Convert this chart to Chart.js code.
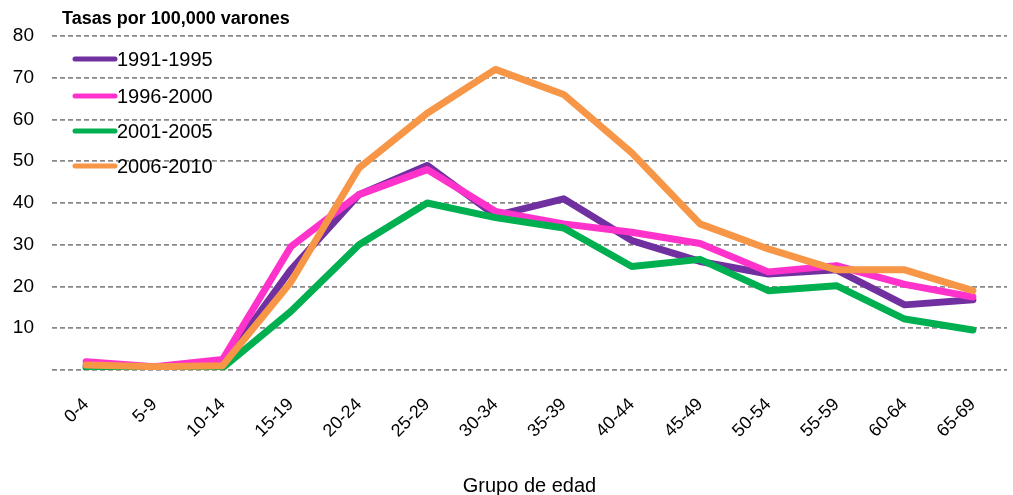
<!DOCTYPE html>
<html>
<head>
<meta charset="utf-8">
<script src="https://cdn.jsdelivr.net/npm/chart.js@4"></script>
<style>
  html, body { margin: 0; padding: 0; background: #fff; }
  #wrap { width: 1013px; height: 495px; }
</style>
</head>
<body>
<div id="wrap"><canvas id="myChart"></canvas></div>
<script>
// Grupos de edad
var grupos = ['0-4', '5-9', '10-14', '15-19', '20-24', '25-29', '30-34', '35-39', '40-44', '45-49', '50-54', '55-59', '60-64', '65-69'];

// Tasas por 100,000 varones
var p1991 = [1.0, 0.5, 1.5, 24, 42, 49, 37, 41, 31, 26, 23, 24, 15.6, 16.8];
var p1996 = [2.0, 0.8, 2.5, 29.5, 42, 48, 38, 35, 33, 30.3, 23.5, 25, 20.5, 17.5];
var p2001 = [0.5, 0.5, 0.5, 14, 30, 40, 36.5, 34, 24.8, 26.5, 19, 20.2, 12.2, 9.6];
var p2006 = [1.2, 0.8, 1.0, 21, 48.4, 61.5, 72, 66, 52, 35, 29, 24, 24, 19];

var yTicks = [0, 10, 20, 30, 40, 50, 60, 70, 80];

var fuente = 'Arial, "Liberation Sans", sans-serif';
Chart.defaults.font.family = fuente;
Chart.defaults.color = '#000';

// leyenda dentro del area, y titulo arriba a la izquierda
var extras = {
	id: 'extras',
	afterDraw: function (chart) {
		var ctx = chart.ctx;
		ctx.save();
		ctx.fillStyle = '#000';
		ctx.font = 'bold 18px ' + fuente;
		ctx.textBaseline = 'middle';
		ctx.textAlign = 'left';
		ctx.fillText('Tasas por 100,000 varones', 62, 19);

		var ys = [59, 96, 131, 166];
		ctx.font = '20px ' + fuente;
		chart.data.datasets.forEach(function (ds, i) {
			ctx.strokeStyle = ds.borderColor;
			ctx.lineWidth = 5;
			ctx.lineCap = 'round';
			ctx.beginPath();
			ctx.moveTo(75, ys[i]);
			ctx.lineTo(115, ys[i]);
			ctx.stroke();
			ctx.fillText(ds.label, 117, ys[i] + 1);
		});
		ctx.restore();
	}
};

var serie = function (label, data, color, order) {
	return {
		label: label,
		data: data,
		borderColor: color,
		backgroundColor: color,
		borderWidth: 7,
		pointRadius: 0,
		tension: 0,
		order: order,
		borderCapStyle: 'round',
		borderJoinStyle: 'round'
	};
};

new Chart(document.getElementById('myChart'), {
	type: 'line',
	data: {
		labels: grupos,
		datasets: [
			serie('1991-1995', p1991, '#7030A0', 4),
			serie('1996-2000', p1996, '#FF33CC', 3),
			serie('2001-2005', p2001, '#00B050', 2),
			serie('2006-2010', p2006, '#F79646', 1)
		]
	},
	options: {
		responsive: true,
		maintainAspectRatio: false,
		animation: false,
		layout: { padding: { top: 36, left: 0, right: 6, bottom: 0 } },
		plugins: {
			legend: { display: false },
			tooltip: { enabled: false }
		},
		scales: {
			x: {
				offset: true,
				afterFit: function (axis) { axis.height = 125; },
				grid: { display: false, drawTicks: false },
				border: { display: false },
				ticks: {
					maxRotation: 45,
					minRotation: 45,
					padding: 24,
					font: { size: 18 }
				},
				title: {
					display: true,
					text: 'Grupo de edad',
					font: { size: 20 },
					padding: { top: 0, bottom: -3 }
				}
			},
			y: {
				min: 0,
				max: 80,
				afterFit: function (axis) { axis.width = 52; },
				afterBuildTicks: function (axis) {
					axis.ticks = yTicks.map(function (v) { return { value: v }; });
				},
				border: { display: false, dash: [5, 3] },
				grid: { color: '#888888', lineWidth: 1.8, drawTicks: false },
				ticks: {
					padding: 18,
					font: { size: 19 },
					callback: function (v) { return v === 0 ? '' : v; }
				}
			}
		}
	},
	plugins: [extras]
});
</script>
</body>
</html>
